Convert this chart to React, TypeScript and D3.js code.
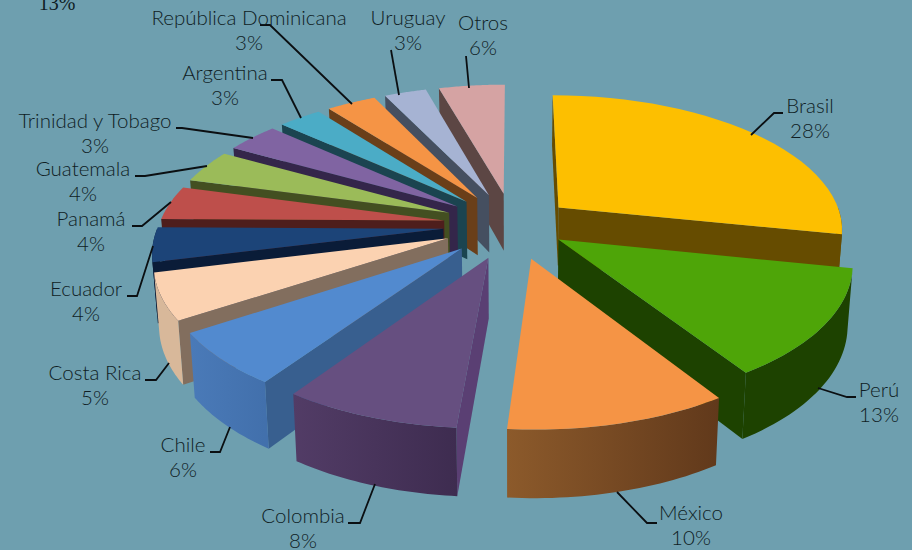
import React from "react";
import * as d3 from "d3";

const categories = ["Brasil","Perú","México","Colombia","Chile","Costa Rica","Ecuador","Panamá","Guatemala","Trinidad y Tobago","Argentina","República Dominicana","Uruguay","Otros"];
const percentLabels = ["28%","13%","10%","8%","6%","5%","4%","4%","4%","3%","3%","3%","3%","6%"];
// Slice sizes as read off the drawn wedges (the 3D drawing does not follow the rounded labels exactly).
const shares = [28.2,12.6,10.4,8.3,6.2,5.4,4.0,4.0,3.9,3.5,2.9,3.3,2.8,4.4];
const explosions = [0.21,0.19,0.25,0.25,0.245,0.245,0.245,0.245,0.245,0.245,0.245,0.245,0.245,0.245];
const topColors = ["#FDBF00","#4EA508","#F59445","#664F80","#528ACF","#FBD2B1","#1C4478","#BE4F4B","#9BBB59","#8064A2","#4BACC6","#F59445","#A6B3D3","#D5A3A3"];
const faceColors = ["#664C00","#1D4200","#633A1C","#5A3F73","#385F8F","#826E5E","#0A1C38","#4E1E1C","#434F21","#34264A","#1B4450","#6A3F19","#454F60","#5C4644"];
const rimLeft = ["#664C00","#1D4200","#8C5A2B","#523C66","#4A7AB8","#D8B89A","#0A1C38","#4E1E1C","#434F21","#34264A","#1B4450","#6A3F19","#454F60","#5C4644"];
const rimRight = ["#664C00","#1D4200","#61391B","#3E2C50","#4270AC","#D8B89A","#0A1C38","#4E1E1C","#434F21","#34264A","#1B4450","#6A3F19","#454F60","#5C4644"];

const labelX = [810,879,691,303,183,95,86,91,83,95,225,249,408,483];
const labelY = [113,397,520,523,452,380,296,226,176,128,80,25,25,30];
const leaders: [number,number][][] = [
  [[751,135],[774,113],[783,113]],
  [[818,388],[847,397],[856,397]],
  [[617,492],[647,523],[657,523]],
  [[375,484],[360,523],[348,523]],
  [[230,427],[220,452],[210,452]],
  [[169,363],[156,380],[145,380]],
  [[153,246],[137,296],[127,296]],
  [[171,202],[142,226],[132,226]],
  [[207,166],[145,176],[135,176]],
  [[253,138],[182,128],[176,128]],
  [[301,118],[282,80],[271,80]],
  [[352,104],[270,25],[260,25]],
  [[399,95],[391,50]],
  [[469,88],[466,56]],
];

const W = 912, H = 550;
const cx = 513, cy = 225, R = 285, RY = 134, persp = 0.15;
const depthBase = 59, depthSlope = 7.7, bottomShrink = 0.985;

type P = [number, number];
function top(X: number, Y: number): P {
  const w = 1 + persp * Y;
  return [cx + (R * X) / w, cy - (RY * Y) / w];
}
function bottom(X: number, Y: number): P {
  const [x, y] = top(X, Y);
  return [cx + (x - cx) * bottomShrink, y + depthBase - depthSlope * Y];
}

const pie = d3.pie<number>().sort(null).startAngle(0).endAngle(2 * Math.PI);
const arcs = pie(shares);
const line = d3.line<P>().curve(d3.curveLinear);

export default function App() {
  const order = d3.range(shares.length).sort(
    (a, b) =>
      Math.cos((arcs[b].startAngle + arcs[b].endAngle) / 2) -
      Math.cos((arcs[a].startAngle + arcs[a].endAngle) / 2)
  );

  const slices = order.map((i) => {
    const a = arcs[i];
    const mid = (a.startAngle + a.endAngle) / 2;
    const ox = explosions[i] * Math.sin(mid), oy = explosions[i] * Math.cos(mid);
    const disc = (t: number): [number, number] => [ox + Math.sin(t), oy + Math.cos(t)];
    const samples = d3.range(0, 31).map((k) => a.startAngle + ((a.endAngle - a.startAngle) * k) / 30);
    const topOuter = samples.map((t) => top(...disc(t)));
    const apexT = top(ox, oy), apexB = bottom(ox, oy);
    const topPath = line([apexT, ...topOuter])! + "Z";
    const faces: { d: string }[] = [];
    if (Math.sin(a.startAngle) <= 1e-6) {
      faces.push({ d: line([apexT, top(...disc(a.startAngle)), bottom(...disc(a.startAngle)), apexB])! + "Z" });
    }
    if (Math.sin(a.endAngle) > 1e-6) {
      faces.push({ d: line([apexT, top(...disc(a.endAngle)), bottom(...disc(a.endAngle)), apexB])! + "Z" });
    }
    const rs = Math.max(a.startAngle, Math.PI / 2), re = Math.min(a.endAngle, 1.5 * Math.PI);
    let rim: string | null = null;
    let rx0 = 0, rx1 = 1;
    if (re > rs) {
      const ts = d3.range(0, 31).map((k) => rs + ((re - rs) * k) / 30);
      const t = ts.map((v) => top(...disc(v)));
      const b = ts.map((v) => bottom(...disc(v))).reverse();
      rim = line([...t, ...b])! + "Z";
      const xs = t.map((p) => p[0]);
      rx0 = d3.min(xs)!; rx1 = d3.max(xs)!;
    }
    return { i, topPath, faces, rim, rx0, rx1 };
  });

  return (
    <svg width={W} height={H} style={{ position: "absolute", left: 0, top: 0 }}>
      <defs>
        {slices.map((s) => (
          <linearGradient key={s.i} id={`rim${s.i}`} gradientUnits="userSpaceOnUse" x1={s.rx0} x2={s.rx1} y1={0} y2={0}>
            <stop offset="0" stopColor={rimLeft[s.i]} />
            <stop offset="1" stopColor={rimRight[s.i]} />
          </linearGradient>
        ))}
      </defs>
      <rect width={W} height={H} fill="#6E9FAF" />
      {slices.map((s) => (
        <g key={s.i}>
          {s.faces.map((f, k) => (
            <path key={k} d={f.d} fill={faceColors[s.i]} />
          ))}
          {s.rim && <path d={s.rim} fill={`url(#rim${s.i})`} />}
          <path d={s.topPath} fill={topColors[s.i]} />
        </g>
      ))}
      <g fill="none" stroke="#0b0f12" strokeWidth={1.8}>
        {leaders.map((l, i) => (
          <path key={i} d={line(l)!} />
        ))}
      </g>
      <g fontFamily="Lato" fontWeight={300} fontSize={20.5} fill="#0f1d24" textAnchor="middle">
        {categories.map((c, i) => (
          <g key={c}>
            <text x={labelX[i]} y={labelY[i]}>{c}</text>
            <text x={labelX[i]} y={labelY[i] + 24.5}>{percentLabels[i]}</text>
          </g>
        ))}
      </g>
      <text x={57} y={10} fontFamily="Liberation Serif" fontSize={20} fill="#0f1d24" textAnchor="middle">13%</text>
    </svg>
  );
}
